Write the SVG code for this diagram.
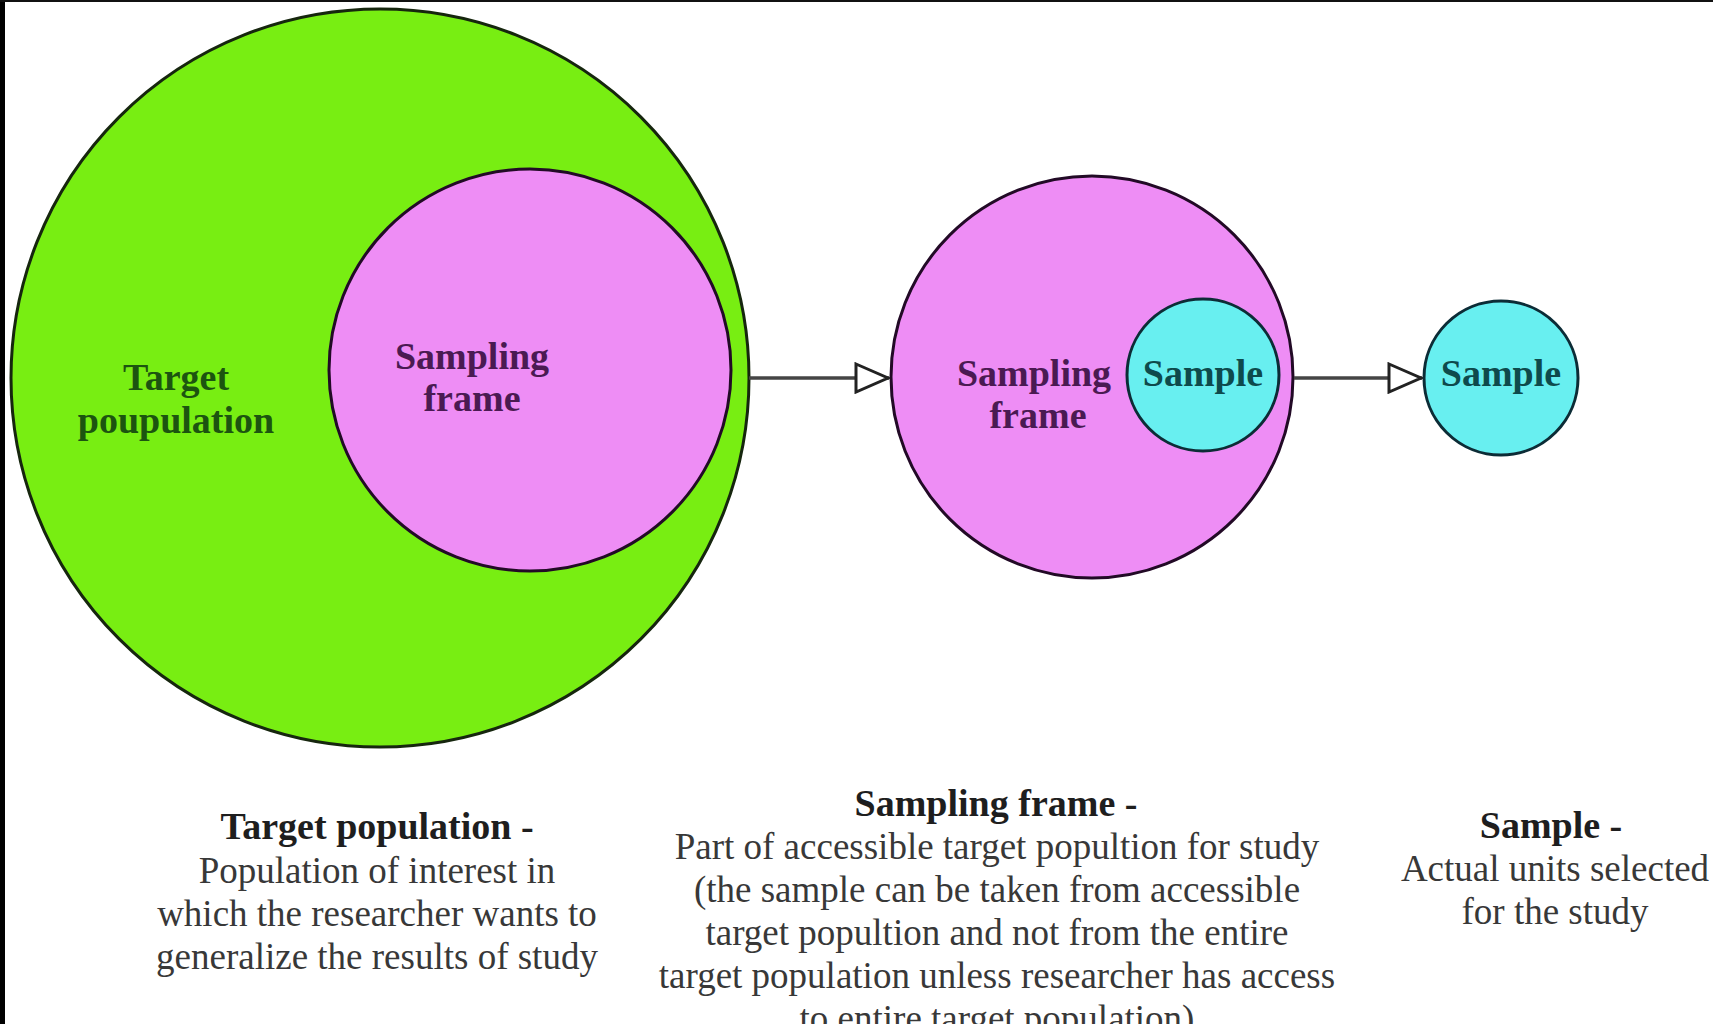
<svg xmlns="http://www.w3.org/2000/svg" width="1713" height="1024" viewBox="0 0 1713 1024">
<defs>
<style>
.lbl{font-family:"Liberation Serif","Times New Roman",serif;font-weight:bold;font-size:38px;text-anchor:middle}
.ttl{font-family:"Liberation Serif","Times New Roman",serif;font-weight:bold;font-size:38px;text-anchor:middle;fill:#1e1e1e}
.desc{font-family:"Liberation Serif","Times New Roman",serif;font-size:37px;text-anchor:middle;fill:#383838}
.conn{stroke:#454545;stroke-width:3.5;fill:none}
</style>
<marker id="tri" viewBox="0 0 36 32" refX="35" refY="16" markerWidth="36" markerHeight="32" markerUnits="userSpaceOnUse" orient="auto">
<path d="M2,2 L34,16 L2,30 Z" fill="#ffffff" stroke="#222222" stroke-width="3" stroke-linejoin="miter"/>
</marker>
</defs>
<rect x="0" y="0" width="1713" height="1024" fill="#ffffff"/>
<rect x="0" y="0" width="5" height="1024" fill="#000000"/>
<rect x="0" y="0" width="1713" height="2" fill="#111111"/>

<g id="target-population">
<circle cx="380" cy="378" r="369" fill="#78ee12" stroke="#16260e" stroke-width="3"/>
<text class="lbl" fill="#1c5410" x="176" y="390">Target</text>
<text class="lbl" fill="#1c5410" x="176" y="433">poupulation</text>
</g>
<g id="sampling-frame-inner">
<circle cx="530" cy="370" r="201" fill="#ee8df5" stroke="#220a26" stroke-width="3"/>
<text class="lbl" fill="#4a1a52" x="472" y="369">Sampling</text>
<text class="lbl" fill="#4a1a52" x="472" y="411">frame</text>
</g>

<g id="sampling-frame">
<circle cx="1092" cy="377" r="201" fill="#ee8df5" stroke="#220a26" stroke-width="3"/>
<text class="lbl" fill="#4a1a52" x="1034" y="386">Sampling</text>
<text class="lbl" fill="#4a1a52" x="1038" y="428">frame</text>
</g>
<g id="sample-inner">
<circle cx="1203" cy="375" r="76" fill="#68eff0" stroke="#0c2c36" stroke-width="3"/>
<text class="lbl" fill="#0e4a4c" x="1203" y="386">Sample</text>
</g>

<g id="sample">
<circle cx="1501" cy="378" r="77" fill="#68eff0" stroke="#0c2c36" stroke-width="3"/>
<text class="lbl" fill="#0e4a4c" x="1501" y="386">Sample</text>
</g>

<g id="connectors">
<line class="conn" x1="749" y1="378" x2="889" y2="378" marker-end="url(#tri)"/>
<line class="conn" x1="1294" y1="378" x2="1422" y2="378" marker-end="url(#tri)"/>
</g>

<g id="desc-target">
<text class="ttl" x="377" y="839">Target population -</text>
<text class="desc" x="377" y="883">Population of interest in</text>
<text class="desc" x="377" y="926">which the researcher wants to</text>
<text class="desc" x="377" y="969">generalize the results of study</text>
</g>
<g id="desc-frame">
<text class="ttl" x="996" y="816">Sampling frame -</text>
<text class="desc" x="997" y="859">Part of accessible target popultion for study</text>
<text class="desc" x="997" y="902">(the sample can be taken from accessible</text>
<text class="desc" x="997" y="945">target popultion and not from the entire</text>
<text class="desc" x="997" y="988">target population unless researcher has access</text>
<text class="desc" x="997" y="1031">to entire target population)</text>
</g>
<g id="desc-sample">
<text class="ttl" x="1551" y="838">Sample -</text>
<text class="desc" x="1555" y="881">Actual units selected</text>
<text class="desc" x="1555" y="924">for the study</text>
</g>
</svg>
